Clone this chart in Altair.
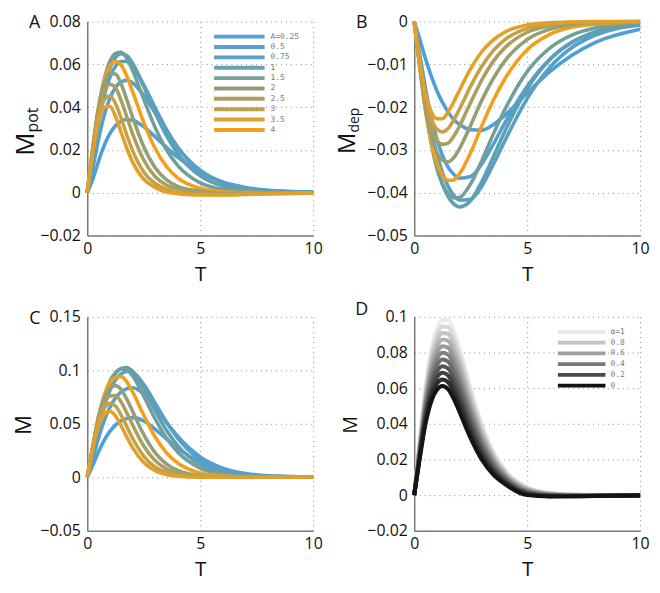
import altair as alt
import pandas as pd

# ---------------- data ----------------
T = [0, 0.25, 0.5, 0.75, 1, 1.25, 1.5, 1.75, 2, 2.5, 3, 3.5, 4, 5, 6, 7, 8, 10]

A_VALUES = ["0.25", "0.5", "0.75", "1", "1.5", "2", "2.5", "3", "3.5", "4"]
CURVE_COLORS = ["#4f9fd6", "#52a0d2", "#56a0c8", "#5f9fb4", "#70a09c",
                "#f2a01c", "#93a077", "#ab9f5e", "#c6a046", "#e2a02a"]

M_POT = [
    [0, .0065, .0148, .0221, .0276, .0313, .0334, .0342, .0339, .0309, .0262, .0213, .0166, .0094, .0050, .0025, .0012, .0003],
    [0, .0117, .0251, .0362, .0441, .0492, .0518, .0525, .0514, .0455, .0374, .0288, .0210, .0105, .0048, .0021, .0009, .0002],
    [0, .0161, .0327, .0453, .0539, .0591, .0613, .0613, .0591, .0504, .0398, .0297, .0214, .0102, .0045, .0019, .0008, .0001],
    [0, .0180, .0360, .0495, .0583, .0632, .0650, .0640, .0606, .0496, .0375, .0268, .0183, .0079, .0031, .0012, .0004, 0],
    [0, .0201, .0393, .0530, .0613, .0651, .0656, .0627, .0573, .0437, .0306, .0202, .0128, .0046, .0016, .0005, .0001, 0],
    [0, .0209, .0399, .0525, .0592, .0613, .0596, .0545, .0475, .0329, .0208, .0124, .0070, .0021, .0005, .0001, 0, 0],
    [0, .0218, .0402, .0511, .0557, .0555, .0508, .0435, .0356, .0215, .0118, .0061, .0030, .0007, -.0003, -.0003, -.0001, 0],
    [0, .0210, .0380, .0474, .0507, .0491, .0431, .0355, .0277, .0153, .0076, .0036, .0016, -.0003, -.0006, -.0005, -.0003, -.0001],
    [0, .0202, .0356, .0433, .0452, .0417, .0348, .0270, .0199, .0097, .0043, .0018, -.0001, -.0008, -.0009, -.0007, -.0004, -.0001],
    [0, .0193, .0334, .0398, .0404, .0356, .0282, .0208, .0145, .0063, .0025, .0003, -.0004, -.0010, -.0010, -.0008, -.0005, -.0002],
]

M_DEP = [
    [0, -.0042, -.0087, -.0127, -.0161, -.0189, -.0211, -.0229, -.0240, -.0253, -.0254, -.0241, -.0220, -.0167, -.0117, -.0078, -.0049, -.0018],
    [0, -.0078, -.0156, -.0222, -.0274, -.0313, -.0340, -.0357, -.0366, -.0362, -.0332, -.0287, -.0238, -.0151, -.0088, -.0048, -.0026, -.0007],
    [0, -.0087, -.0176, -.0250, -.0309, -.0353, -.0385, -.0406, -.0417, -.0415, -.0384, -.0334, -.0280, -.0180, -.0107, -.0060, -.0032, -.0008],
    [0, -.0099, -.0196, -.0275, -.0336, -.0380, -.0409, -.0426, -.0433, -.0418, -.0373, -.0316, -.0258, -.0157, -.0089, -.0048, -.0024, -.0006],
    [0, -.0105, -.0206, -.0284, -.0342, -.0380, -.0402, -.0412, -.0411, -.0379, -.0324, -.0263, -.0207, -.0117, -.0062, -.0031, -.0015, -.0003],
    [0, -.0109, -.0208, -.0281, -.0330, -.0359, -.0371, -.0370, -.0356, -.0306, -.0243, -.0184, -.0135, -.0066, -.0030, -.0013, -.0006, -.0001],
    [0, -.0107, -.0201, -.0266, -.0305, -.0324, -.0328, -.0318, -.0297, -.0242, -.0183, -.0133, -.0093, -.0042, -.0018, -.0007, -.0003, -.0001],
    [0, -.0103, -.0188, -.0244, -.0276, -.0287, -.0284, -.0268, -.0245, -.0189, -.0136, -.0093, -.0062, -.0025, -.0010, -.0003, -.0001, 0],
    [0, -.0099, -.0178, -.0227, -.0251, -.0258, -.0250, -.0230, -.0205, -.0151, -.0104, -.0068, -.0043, -.0016, -.0006, -.0002, -.0001, 0],
    [0, -.0096, -.0169, -.0210, -.0227, -.0227, -.0211, -.0188, -.0161, -.0110, -.0070, -.0043, -.0025, -.0008, -.0003, -.0001, 0, 0],
]

M_TOT = [
    [0, .0114, .0239, .0346, .0429, .0488, .0528, .0550, .0558, .0528, .0451, .0359, .0272, .0140, .0065, .0028, .0011, .0002],
    [0, .0176, .0367, .0530, .0653, .0742, .0799, .0828, .0837, .0780, .0657, .0515, .0384, .0191, .0086, .0036, .0014, .0002],
    [0, .0228, .0469, .0666, .0812, .0909, .0965, .0988, .0981, .0868, .0695, .0518, .0367, .0165, .0067, .0025, .0009, .0001],
    [0, .0258, .0524, .0733, .0880, .0972, .1017, .1026, .0992, .0831, .0627, .0442, .0296, .0119, .0043, .0014, .0005, 0],
    [0, .0272, .0547, .0756, .0897, .0978, .1012, .1005, .0949, .0759, .0548, .0369, .0236, .0086, .0029, .0009, .0003, 0],
    [0, .0288, .0565, .0761, .0880, .0936, .0941, .0892, .0802, .0580, .0379, .0231, .0134, .0040, .0011, .0003, .0001, 0],
    [0, .0299, .0568, .0742, .0832, .0857, .0820, .0731, .0619, .0398, .0231, .0125, .0064, .0015, .0003, .0001, 0, 0],
    [0, .0290, .0540, .0691, .0759, .0764, .0703, .0602, .0492, .0292, .0157, .0079, .0037, .0008, .0001, 0, 0, 0],
    [0, .0285, .0516, .0644, .0689, .0666, .0582, .0475, .0367, .0198, .0096, .0043, .0019, .0003, 0, 0, 0, 0],
    [0, .0273, .0483, .0590, .0617, .0573, .0481, .0376, .0279, .0138, .0062, .0026, .0010, .0001, 0, 0, 0, 0],
]

ALPHA_VALUES = ["1", "0.9", "0.8", "0.7", "0.6", "0.5", "0.4", "0.3", "0.2", "0.1", "0"]
ALPHA_COLORS = ["#ebebeb", "#d8d8d8", "#c4c4c4", "#afafaf", "#999999", "#838383",
                "#6d6d6d", "#575757", "#414141", "#2b2b2b", "#141414"]
M_ALPHA = [
    [0, .0311, .0605, .0811, .0931, .0983, .0981, .0922, .0827, .0600, .0397, .0246, .0145, .0046, .0013, .0004, .0001, 0],
    [0, .0301, .0584, .0782, .0897, .0946, .0942, .0884, .0791, .0572, .0377, .0233, .0137, .0041, .0011, .0003, 0, 0],
    [0, .0290, .0564, .0753, .0863, .0909, .0904, .0846, .0755, .0544, .0357, .0220, .0129, .0037, .0009, .0002, 0, 0],
    [0, .0280, .0543, .0725, .0829, .0872, .0865, .0807, .0719, .0515, .0337, .0207, .0120, .0032, .0007, .0001, -.0001, -.0001],
    [0, .0270, .0522, .0696, .0795, .0835, .0826, .0769, .0683, .0487, .0317, .0194, .0112, .0028, .0005, 0, -.0001, -.0001],
    [0, .0260, .0502, .0667, .0761, .0798, .0788, .0731, .0648, .0459, .0297, .0181, .0104, .0023, .0003, -.0002, -.0002, -.0001],
    [0, .0249, .0481, .0638, .0726, .0760, .0749, .0693, .0612, .0431, .0277, .0167, .0096, .0018, 0, -.0003, -.0003, -.0001],
    [0, .0239, .0460, .0609, .0692, .0723, .0710, .0655, .0576, .0403, .0257, .0154, .0088, .0014, -.0002, -.0004, -.0003, -.0001],
    [0, .0229, .0439, .0581, .0658, .0686, .0671, .0616, .0540, .0374, .0237, .0141, .0079, .0009, -.0004, -.0005, -.0004, -.0002],
    [0, .0218, .0419, .0552, .0624, .0649, .0633, .0578, .0504, .0346, .0217, .0128, .0071, .0005, -.0006, -.0006, -.0004, -.0002],
    [0, .0208, .0398, .0523, .0590, .0612, .0594, .0540, .0468, .0318, .0197, .0115, .0063, 0, -.0008, -.0007, -.0005, -.0002],
]

LEGEND_A_LABELS = ["A=0.25", "0.5", "0.75", "1", "1.5", "2", "2.5", "3", "3.5", "4"]
LEGEND_A_COLORS = ["#5aa0d2", "#5aa0cf", "#5a9fc5", "#69a0ae", "#7a9f95",
                   "#8e9f7e", "#a79e63", "#bd9f4c", "#d7a032", "#f0a014"]
LEGEND_D_LABELS = ["α=1", "0.8", "0.6", "0.4", "0.2", "0"]
LEGEND_D_COLORS = ["#e8e8e8", "#c4c4c4", "#a0a0a0", "#787878", "#4a4a4a", "#111111"]

X_TICKS = [0, 5, 10]
Y_TICKS_A = [-0.02, 0, 0.02, 0.04, 0.06, 0.08]
Y_TICKS_B = [-0.05, -0.04, -0.03, -0.02, -0.01, 0]
Y_TICKS_C = [-0.05, 0, 0.05, 0.1, 0.15]
Y_TICKS_D = [-0.02, 0, 0.02, 0.04, 0.06, 0.08, 0.1]

# ---------------- styling ----------------
W, H = 228, 216
FONT = "Open Sans"
AXIS_GREY = "#7a7a7a"
GRID_GREY = "#8a8a8a"


def x_axis():
    return alt.Axis(values=X_TICKS, title="T", grid=True, gridDash=[1, 4],
                    gridColor=GRID_GREY, gridWidth=1, domainColor=AXIS_GREY,
                    domainWidth=1.5, ticks=False, labelFont=FONT, titleFont=FONT,
                    labelFontSize=16, titleFontSize=21, titleFontWeight="normal",
                    labelColor="#111", titleColor="#111", labelPadding=5,
                    titlePadding=7, labelFlush=False)


def y_axis(ticks):
    return alt.Axis(values=ticks, title=None, grid=True, gridDash=[1, 4],
                    gridColor=GRID_GREY, gridWidth=1, domainColor=AXIS_GREY,
                    domainWidth=1.5, ticks=False, labelFont=FONT, labelFontSize=16,
                    labelColor="#111", labelPadding=7, format=".2~f",
                    labelFlush=False, labelOverlap=False)


def curve_frame(series, names):
    rows = []
    for name, vals in zip(names, series):
        for t, v in zip(T, vals):
            rows.append({"curve": name, "T": t, "v": v})
    return pd.DataFrame(rows)


def text_layer(txt, x, y, size, angle=0, align="center", baseline="middle", dy=0, font=FONT, color="#111"):
    kw = dict(align=align, baseline=baseline, fontSize=size, font=font, color=color)
    if angle:
        kw["angle"] = angle
    if dy:
        kw["dy"] = dy
    return alt.Chart(pd.DataFrame({"t": [txt]})).mark_text(**kw).encode(
        text="t:N", x=alt.value(x), y=alt.value(y))


def panel(series, names, colors, yticks, letter, main, sub, msize, xb,
          letter_y=2, stroke=3.6):
    df = curve_frame(series, names)
    lines = alt.Chart(df).mark_line(strokeWidth=stroke, interpolate="monotone").encode(
        x=alt.X("T:Q", scale=alt.Scale(domain=[0, 10], nice=False), axis=x_axis()),
        y=alt.Y("v:Q", scale=alt.Scale(domain=[yticks[0], yticks[-1]], nice=False),
                axis=y_axis(yticks)),
        color=alt.Color("curve:N", scale=alt.Scale(domain=names, range=colors), legend=None),
    )
    layers = [lines]
    yc = H / 2 + (4 if sub else -msize * 0.4)
    layers.append(text_layer(main, xb, yc, msize, angle=270, align="right",
                             baseline="alphabetic"))
    if sub:
        layers.append(text_layer(sub, xb, yc, round(msize * 0.6), angle=270,
                                 align="left", baseline="alphabetic", dy=4))
    layers.append(text_layer(letter, -53, letter_y, 18))
    return layers


def legend_layer(labels, colors, x1, x2, xt, y0, y1):
    n = len(labels)
    ldf = pd.DataFrame({"label": labels, "row": list(range(n))})
    yscale = alt.Scale(domain=[0, n - 1], range=[y0, y1])
    cscale = alt.Scale(domain=labels, range=colors)
    rules = alt.Chart(ldf).mark_rule(strokeWidth=4).encode(
        x=alt.value(x1), x2=alt.value(x2),
        y=alt.Y("row:Q", scale=yscale, axis=None),
        color=alt.Color("label:N", scale=cscale, legend=None))
    texts = alt.Chart(ldf).mark_text(align="left", baseline="middle", font="DejaVu Sans Mono",
                                     fontSize=8, color="#777").encode(
        x=alt.value(xt), y=alt.Y("row:Q", scale=yscale, axis=None), text="label:N")
    return alt.layer(rules, texts)


sy = H / 227.0

pA = alt.layer(*panel(M_POT, A_VALUES, CURVE_COLORS, Y_TICKS_A, "A", "M", "pot", 26, -54),
               legend_layer(LEGEND_A_LABELS, LEGEND_A_COLORS, 128, 179, 185, 16 * sy, 115 * sy)
               ).resolve_scale(y="independent", color="independent").properties(width=W, height=H)

pB = alt.layer(*panel(M_DEP, A_VALUES, CURVE_COLORS, Y_TICKS_B, "B", "M", "dep", 24, -60)
               ).properties(width=W, height=H)

pC = alt.layer(*panel(M_TOT, A_VALUES, CURVE_COLORS, Y_TICKS_C, "C", "M", "", 22, -57)
               ).properties(width=W, height=H)

pD = alt.layer(*panel(M_ALPHA, ALPHA_VALUES, ALPHA_COLORS, Y_TICKS_D, "D", "M", "", 20, -58,
                      letter_y=-7, stroke=4),
               legend_layer(LEGEND_D_LABELS, LEGEND_D_COLORS, 145, 193, 198, 16 * sy, 73 * sy)
               ).resolve_scale(y="independent", color="independent").properties(width=W, height=H)

chart = alt.concat(pA, pB, pC, pD, columns=2, spacing={"row": 82, "column": 102},
                   bounds="flush").properties(
    padding={"left": 5, "top": 3, "right": 2, "bottom": 0}, background="white"
).configure_view(stroke=None)

chart.save("out.html", embed_options={"renderer": "svg", "actions": False})
